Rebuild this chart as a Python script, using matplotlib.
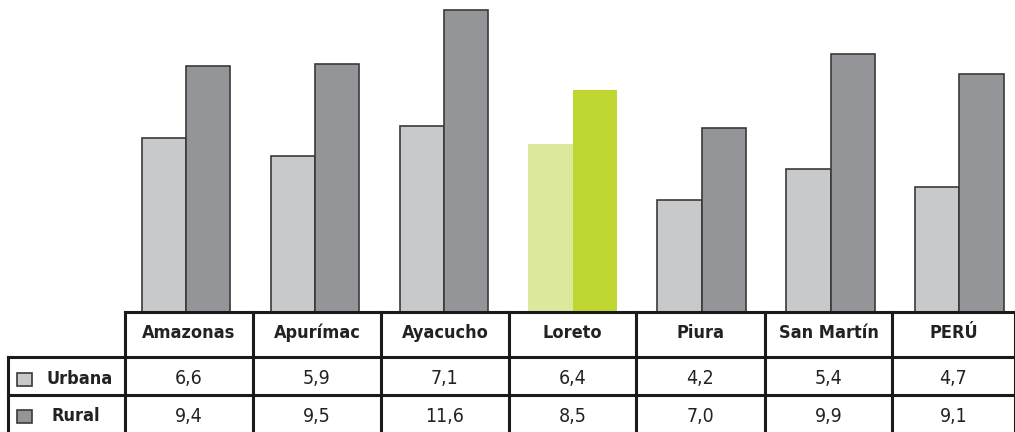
import matplotlib.pyplot as plt
from matplotlib.patches import Rectangle

plt.rcParams["font.family"] = ["DejaVu Sans"]
plt.rcParams["font.stretch"] = "condensed"

regiones = ["Amazonas", "Apurímac", "Ayacucho", "Loreto", "Piura", "San Martín", "PERÚ"]
urbana = [6.6, 5.9, 7.1, 6.4, 4.2, 5.4, 4.7]
rural = [9.4, 9.5, 11.6, 8.5, 7.0, 9.9, 9.1]
urbana_txt = ["6,6", "5,9", "7,1", "6,4", "4,2", "5,4", "4,7"]
rural_txt = ["9,4", "9,5", "11,6", "8,5", "7,0", "9,9", "9,1"]
series = ["Urbana", "Rural"]
destacado = "Loreto"

W, H = 1015, 432
fig = plt.figure(figsize=(W / 100, H / 100), dpi=100)

# ejes de barras: pixeles x 125-1015, y 0-312 (desde arriba)
px_x = 128.9   # pixeles por categoria
px_y = 25.7    # pixeles por unidad
ax = fig.add_axes([125 / W, (H - 312) / H, 890 / W, 312 / H])
ax.set_xlim((125 - 186) / px_x, (1015 - 186) / px_x)
y0 = -4 / px_y
ax.set_ylim(y0, 308 / px_y)
ax.axis("off")

ancho = 44.3 / px_x
for i, reg in enumerate(regiones):
    if reg == destacado:
        cu, cr, ec = "#dce89c", "#bfd730", "none"
    else:
        cu, cr, ec = "#c8c9cb", "#939598", "#3a3a3a"
    ax.bar(i - ancho / 2, urbana[i] - y0, bottom=y0, width=ancho, color=cu, edgecolor=ec, linewidth=1.2)
    ax.bar(i + ancho / 2, rural[i] - y0, bottom=y0, width=ancho, color=cr, edgecolor=ec, linewidth=1.2)

# tabla en coordenadas de pixeles
tx = fig.add_axes([0, 0, 1, 1])
tx.set_xlim(0, W)
tx.set_ylim(H, 0)
tx.axis("off")

bordes = [125, 253, 381, 509, 636, 765, 892, 1015]
y_top, y_hdr, y_r1, y_bot = 312, 357, 395, 432
lw = 2.2
k = "#1a1a1a"

tx.plot([125, W], [y_top, y_top], color=k, lw=lw)
tx.plot([8, W], [y_hdr, y_hdr], color=k, lw=lw)
tx.plot([8, W], [y_r1, y_r1], color=k, lw=lw)
tx.plot([8, 8], [y_hdr, y_bot], color=k, lw=lw)
for xx in bordes:
    tx.plot([xx, xx], [y_top, y_bot], color=k, lw=lw)

for i, reg in enumerate(regiones):
    cx = (bordes[i] + bordes[i + 1]) / 2
    tx.text(cx, 333, reg, ha="center", va="center",
            fontsize=13, fontweight="bold", color="#222222")
    tx.text(cx, 379, urbana_txt[i], ha="center", va="center",
            fontsize=14, color="#222222")
    tx.text(cx, 416, rural_txt[i], ha="center", va="center",
            fontsize=14, color="#222222")

colores_leyenda = ["#c8c9cb", "#939598"]
for s, c, ym, dx in zip(series, colores_leyenda, [379, 416], [47, 52]):
    tx.add_patch(Rectangle((17, ym - 6.5), 15, 13, facecolor=c, edgecolor="#3a3a3a", lw=1.2))
    tx.text(dx, ym, s, ha="left", va="center", fontsize=13,
            fontweight="bold", color="#222222")

fig.savefig("out.png", dpi=100)
